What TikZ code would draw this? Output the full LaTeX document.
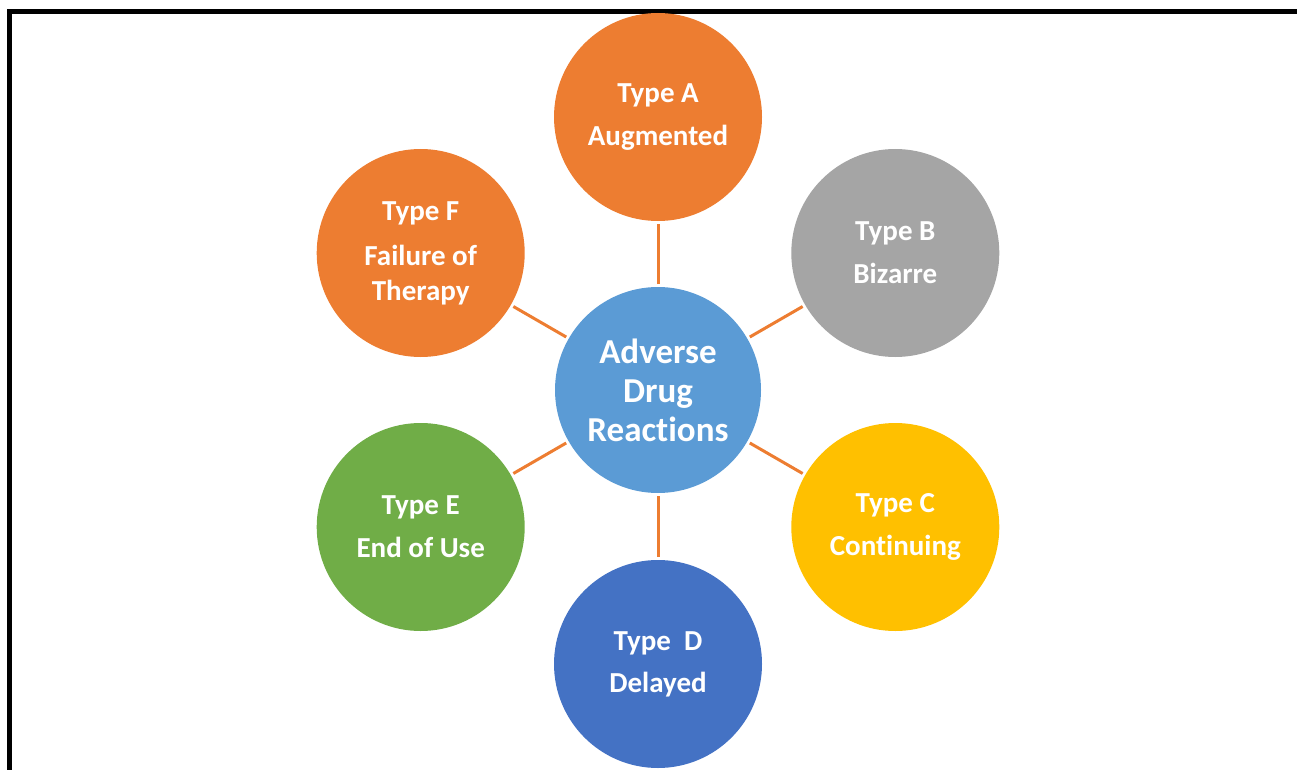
\documentclass[tikz,border=0pt]{standalone}
\usepackage{fontspec}
\setmainfont{Carlito}[Ligatures={NoCommon,NoRare}]
\definecolor{adrorange}{HTML}{ED7D31}
\definecolor{adrgray}{HTML}{A5A5A5}
\definecolor{adrgold}{HTML}{FFC000}
\definecolor{adrblue}{HTML}{4472C4}
\definecolor{adrgreen}{HTML}{70AD47}
\definecolor{adrsky}{HTML}{5B9BD5}
\begin{document}
\begin{tikzpicture}[x=1pt,y=-1pt,
  bubble/.style={circle, minimum size=208pt, inner sep=0pt, outer sep=0pt,
    text=white, align=center, font=\bfseries\fontsize{29}{35}\selectfont},
  hub/.style={bubble, fill=adrsky, minimum size=206pt,
    font=\bfseries\fontsize{35}{39}\selectfont},
  link/.style={draw=adrorange, line width=3pt, shorten <=3pt, shorten >=3pt}]
\useasboundingbox (0,0) rectangle (1297,770);
% frame, open to the right and bottom
\draw[line width=4.5pt] (9.7,800) -- (9.7,11.7) -- (1320,11.7);
% hub and the six categories around it
\node[hub] (hub) at (658,390) {Adverse\\Drug\\Reactions};
\node[bubble, fill=adrorange] (ta) at (658,117) {Type A\\[8pt]Augmented};
\node[bubble, fill=adrgray]   (tb) at (895.3,253) {Type B\\[8pt]Bizarre};
\node[bubble, fill=adrgold]   (tc) at (895.3,527) {Type C\\[8pt]Continuing};
\node[bubble, fill=adrblue]   (td) at (658,664) {Type\ \ D\\[7pt]Delayed};
\node[bubble, fill=adrgreen]  (te) at (420.7,527) {Type E\\[8pt]End of Use};
\node[bubble, fill=adrorange] (tf) at (420.7,253) {Type F\\[10pt]Failure of\\Therapy};
% spokes
\foreach \t in {ta,tb,tc,td,te,tf}
  \draw[link] (hub) -- (\t);
\end{tikzpicture}
\end{document}
